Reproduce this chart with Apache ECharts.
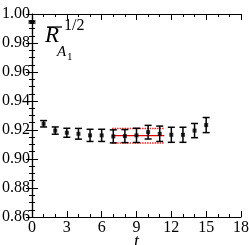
<!DOCTYPE html>
<html><head><meta charset="utf-8">
<script src="https://cdn.jsdelivr.net/npm/echarts@6/dist/echarts.min.js"></script>
<style>html,body{margin:0;padding:0;background:#fff}#c{width:249px;height:245px}</style>
</head><body><div id="c"></div>
<script>
var tVals = [0,1,2,3,4,5,6,7,8,9,10,11,12,13,14,15];
var rVals = [0.9945,0.9243,0.9196,0.9181,0.9174,0.9163,0.9163,0.9156,0.9158,0.9163,0.9185,0.9174,0.9167,0.9167,0.9196,0.9234];
var rErrs = [0.0007,0.0022,0.0025,0.0031,0.0037,0.0042,0.0042,0.0045,0.0045,0.0049,0.0047,0.0053,0.0052,0.0052,0.0049,0.0052];
var fitRange = [6.9,11.4];
var fitValue = 0.9161;
var fitErr = 0.005;

var chart = echarts.init(document.getElementById('c'), null, {renderer:'canvas'});
var font = 'Liberation Serif';
var pts = tVals.map(function(t,i){return [t,rVals[i]];});
var errData = tVals.map(function(t,i){return [t,rVals[i]-rErrs[i],rVals[i]+rErrs[i]];});
function axisCommon(){
  return {
    axisLine:{show:true,lineStyle:{color:'#000',width:1.2}},
    axisTick:{show:true,inside:true,length:6,lineStyle:{color:'#000',width:1}},
    splitLine:{show:false}
  };
}
var xb = Object.assign(axisCommon(),{type:'value',min:0,max:18,interval:3,position:'bottom',
  minorTick:{show:true,splitNumber:3,length:3,lineStyle:{color:'#000'}},
  axisLabel:{color:'#000',fontFamily:font,fontSize:16,margin:3},
  name:'t',nameLocation:'middle',nameGap:16,nameMoveOverlap:false,
  nameTextStyle:{fontFamily:font,fontStyle:'italic',fontSize:18,color:'#000'}});
var xt = Object.assign(axisCommon(),{type:'value',min:0,max:18,interval:3,position:'top',
  minorTick:{show:true,splitNumber:3,length:3,lineStyle:{color:'#000'}},axisLabel:{show:false}});
var yl = Object.assign(axisCommon(),{type:'value',min:0.86,max:1.0,interval:0.02,position:'left',
  minorTick:{show:true,splitNumber:4,length:3,lineStyle:{color:'#000'}},
  axisLabel:{color:'#000',fontFamily:font,fontSize:16,margin:2,formatter:function(v){return v.toFixed(2);}}});
var yr = Object.assign(axisCommon(),{type:'value',min:0.86,max:1.0,interval:0.02,position:'right',
  minorTick:{show:true,splitNumber:4,length:3,lineStyle:{color:'#000'}},axisLabel:{show:false}});

chart.setOption({
  animation:false,
  grid:{left:32,right:8,top:14,bottom:28,containLabel:false,outerBoundsMode:'none'},
  xAxis:[xb,xt],
  yAxis:[yl,yr],
  series:[
    {type:'custom',xAxisIndex:0,yAxisIndex:0,data:errData,z:3,
     renderItem:function(params,api){
       var x=api.value(0),lo=api.value(1),hi=api.value(2);
       var p1=api.coord([x,lo]),p2=api.coord([x,hi]);
       var w=3.5;
       var st={stroke:'#000',lineWidth:1.5};
       return {type:'group',children:[
         {type:'line',shape:{x1:p1[0],y1:p1[1],x2:p2[0],y2:p2[1]},style:st},
         {type:'line',shape:{x1:p1[0]-w,y1:p1[1],x2:p1[0]+w,y2:p1[1]},style:st},
         {type:'line',shape:{x1:p2[0]-w,y1:p2[1],x2:p2[0]+w,y2:p2[1]},style:st}
       ]};
     }},
    {type:'scatter',data:pts,symbol:'rect',symbolSize:4,itemStyle:{color:'#000'},z:4},
    {type:'line',data:[[fitRange[0],fitValue],[fitRange[1],fitValue]],showSymbol:false,
     lineStyle:{color:'#e00000',width:1.3},z:2},
    {type:'line',data:[[fitRange[0],fitValue+fitErr],[fitRange[1],fitValue+fitErr]],showSymbol:false,
     lineStyle:{color:'#ff2020',width:1.5,type:[1.5,1]},z:2},
    {type:'line',data:[[fitRange[0],fitValue-fitErr],[fitRange[1],fitValue-fitErr]],showSymbol:false,
     lineStyle:{color:'#ff2020',width:1.5,type:[1.5,1]},z:2}
  ],
  graphic:[
    {type:'text',style:{x:45,y:47,text:'R',font:'italic 23px "Liberation Serif"',fill:'#000',verticalAlign:'bottom'}},
    {type:'line',shape:{x1:47,y1:27,x2:62,y2:27},style:{stroke:'#000',lineWidth:1.3}},
    {type:'text',style:{x:64,y:34,text:'1/2',font:'16px "Liberation Serif"',fill:'#000',verticalAlign:'bottom'}},
    {type:'text',style:{x:57,y:60,text:'A',font:'italic 15px "Liberation Serif"',fill:'#000',verticalAlign:'bottom'}},
    {type:'text',style:{x:67,y:63,text:'1',font:'11px "Liberation Serif"',fill:'#000',verticalAlign:'bottom'}}
  ]
});
</script></body></html>
